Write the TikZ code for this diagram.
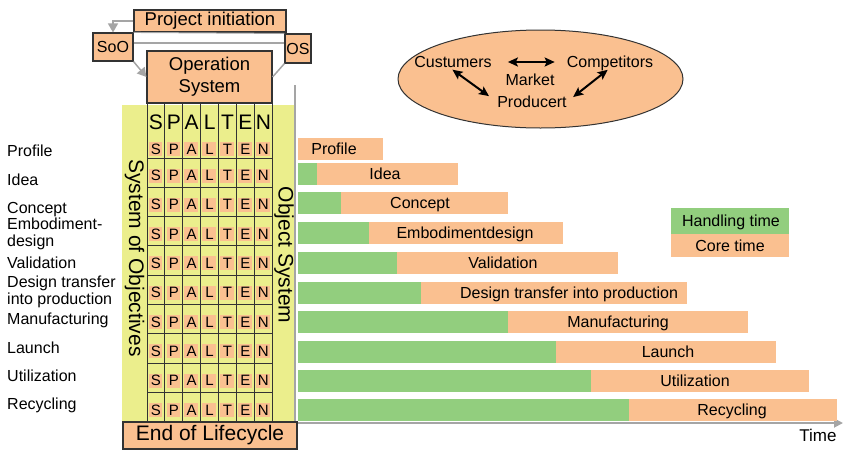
\documentclass[tikz,border=0pt]{standalone}
\usepackage{fontspec}
\setmainfont{Liberation Sans}
\usetikzlibrary{arrows.meta,shapes.geometric}

\definecolor{peach}{RGB}{250,192,144}
\definecolor{lemon}{RGB}{235,238,140}
\definecolor{leaf}{RGB}{146,206,126}
\definecolor{ash}{RGB}{165,165,165}

\begin{document}
\begin{tikzpicture}[x=1pt,y=-1pt,
  every node/.style={inner sep=0pt,font=\fontsize{16}{17}\selectfont},
  lbl/.style={text height=11.5pt,text depth=0pt},
  box/.style={draw=black!80,fill=peach,line width=1.1pt},
  big/.style={font=\fontsize{18.5}{22}\selectfont},
  huge/.style={font=\fontsize{21}{24}\selectfont},
  flow/.style={ash,line width=1.5pt},
  grid/.style={black!80,line width=0.9pt},
  market/.style={arrows={Stealth[length=10pt,width=9pt,inset=2pt]-Stealth[length=10pt,width=9pt,inset=2pt]},line width=2pt}]
\useasboundingbox (0,0) rectangle (843,450);

% yellow strip behind the table
\fill[lemon] (122,105) rectangle (295,422);

% SPALTEN letters
\foreach \l [count=\j from 0] in {S,P,A,L,T,E,N} {
  \node (head\j) at ({155.95+17.9*\j},122.5) [huge] {\l};
  \foreach \yy [count=\k from 0] in {149,175.5,204.8,234.1,263.4,292.7,322,351.3,380.6,409.9} {
    \fill[peach] ({148.6+17.9*\j},{\yy-7}) rectangle ({162.3+17.9*\j},{\yy+7});
    \node (cell\k-\j) at ({155.95+17.9*\j},\yy) [font=\fontsize{15}{16}\selectfont] {\l};
  }
}
\foreach \j in {0,...,7}
  \draw[grid] ({147+17.9*\j},103) -- ({147+17.9*\j},421.7);
\foreach \k in {0,...,9}
  \draw[grid] (147,{158+29.3*\k}) -- (272.3,{158+29.3*\k});

\node (objectives) at (134.5,258) [rotate=-90,huge] {System of Objectives};
\node (objsys) at (284,255) [rotate=-90,huge] {Object System};

% time axis
\coordinate (ytop) at (295,85);
\coordinate (origin) at (295,423);
\coordinate (xend) at (843,423);
\draw[ash,line width=1.8pt,arrows={-Triangle[length=9pt,width=9pt]}] (ytop) -- (origin) -- (xend);
\node (time) at (818,435) [font=\fontsize{17}{18}\selectfont] {Time};

% phases: top / end of handling time / end of core time / label / label x
\foreach \yb/\xg/\xc/\txt/\xt [count=\i] in {138/298/383/Profile/334,163/317/458/Idea/385,
  192/341/508/Concept/420,222/369/563/Embodimentdesign/465,252/397/618/Validation/503,
  282/421/687/Design transfer into production/569,311/508/748/Manufacturing/618,
  341/556/776/Launch/668,370/591/809/Utilization/695,399/629/837/Recycling/732} {
  \fill[leaf] (298,\yb) rectangle (\xg,{\yb+22});
  \fill[peach] (\xg,\yb) rectangle (\xc,{\yb+22});
  \node (bar\i) at (\xt,{\yb+11}) [lbl] {\txt};
}

\foreach \yy/\txt [count=\i] in {151/Profile,180/Idea,208/Concept,263/Validation,
  319/Manufacturing,348/Launch,376/Utilization,404/Recycling}
  \node (phase\i) at (7,\yy) [anchor=west,lbl] {\txt};
\node (phaseE) at (7,234) [anchor=west,align=left] {Embodiment-\\design};
\node (phaseD) at (7,292) [anchor=west,align=left] {Design transfer\\into production};

% legend
\fill[leaf] (671,208) rectangle (789,234);
\fill[peach] (671,234) rectangle (789,257);
\node (handling) at (731,221) [lbl] {Handling time};
\node (core) at (730,245.5) [lbl] {Core time};

% market
\node (market) at (540.5,79) [ellipse,draw=black!80,fill=peach,line width=1pt,minimum width=285,minimum height=98] {};
\node (cust) at (453,62) [lbl] {Custumers};
\node (comp) at (610,62) [lbl] {Competitors};
\node (mkt) at (530,79.5) [lbl] {Market};
\node (prod) at (532,102) [lbl] {Producert};
\draw[market,shorten <=16pt,shorten >=12pt] (cust.east) -- (comp.west);
\draw[market,shorten <=3pt,shorten >=10pt] ([xshift=-3pt]cust.south) -- (prod.west);
\draw[market,shorten <=3pt,shorten >=8pt] (comp.south) -- (prod.east);

% boxes
\node (init) at (210,21) [box,big,minimum width=152,minimum height=22] {Project initiation};
\node (soo) at (113,47) [box,minimum width=40,minimum height=28] {SoO};
\node (os) at (298,48.5) [box,minimum width=26,minimum height=29] {OS};
\node (opsys) at (209.5,77) [box,big,minimum width=125,minimum height=52,align=center] {Operation\\System};
\node (eol) at (210,435.5) [box,huge,minimum width=174,minimum height=27] {End of Lifecycle};

\draw[flow,arrows={-Triangle[length=9pt,width=10pt]}] (init.west) -| (soo.north);
\draw[flow,arrows={-Triangle[length=9pt,width=10pt]}] (soo.south east) -- (opsys.west);
\draw[flow] (os.south west) -- (opsys.east);
\draw[flow] ([yshift=4pt]soo.east) -- ([yshift=5.5pt]os.west);
\draw[flow,line width=1pt] (soo.north east) -- (os.north west);

\end{tikzpicture}
\end{document}
